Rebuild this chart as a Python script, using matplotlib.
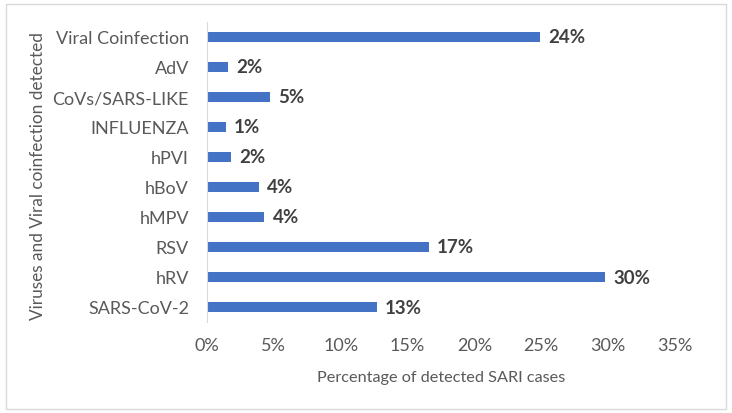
import matplotlib.pyplot as plt
from matplotlib.patches import Rectangle

# данные (снизу вверх)
viruses = ['SARS-CoV-2', 'hRV', 'RSV', 'hMPV', 'hBoV', 'hPVI', 'INFLUENZA',
           'CoVs/SARS-LIKE', 'AdV', 'Viral Coinfection']
values = [12.7, 29.8, 16.6, 4.3, 3.9, 1.8, 1.4, 4.7, 1.6, 24.9]
labels = ['13%', '30%', '17%', '4%', '4%', '2%', '1%', '5%', '2%', '24%']
xticks = [0, 5, 10, 15, 20, 25, 30, 35]

plt.rcParams['font.family'] = ['Lato', 'DejaVu Sans']
txt = '#595959'

fig = plt.figure(figsize=(7.32, 4.14), dpi=100)
ax = fig.add_axes([207/732, 1-323/414, (675-207)/732, 300/414])

ax.barh(range(len(viruses)), values, height=0.36, color='#4472C4')
for i, (v, lab) in enumerate(zip(values, labels)):
    ax.text(v + 0.6, i, lab, va='center', ha='left', fontsize=13.5,
            fontweight='bold', color='#404040')

ax.set_xlim(0, 35)
ax.set_ylim(-0.5, len(viruses) - 0.5)
ax.set_yticks(range(len(viruses)))
ax.set_yticklabels(viruses, fontsize=13, color=txt)
ax.set_xticks(xticks)
ax.set_xticklabels([f'{t}%' for t in xticks], fontsize=13, color=txt)
ax.tick_params(length=0)
ax.tick_params(axis='x', pad=11)
ax.tick_params(axis='y', pad=13)
for s in ['top', 'right', 'bottom']:
    ax.spines[s].set_visible(False)
ax.spines['left'].set_color('#d9d9d9')

ax.set_xlabel('Percentage of detected SARI cases', fontsize=11.7, color=txt, va='center')
ax.set_ylabel('Viruses and Viral coinfection detected', fontsize=12.4, color=txt, va='center')
ax.xaxis.set_label_coords(0.5, (323 - 378) / 300)
ax.yaxis.set_label_coords((38 - 207) / 468, 0.49)

# рамка
fig.patches.append(Rectangle((6/732, 4/414), 1-12/732, 1-9/414, transform=fig.transFigure,
                             fill=False, edgecolor='#d9d9d9', lw=1))

plt.savefig('out.png', dpi=100)
